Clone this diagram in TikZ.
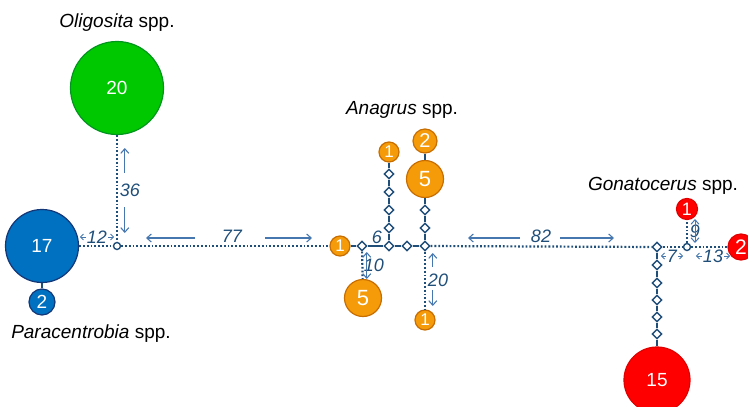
\documentclass[tikz,border=0pt]{standalone}
\usepackage{fontspec}
\setmainfont{Liberation Sans}
\usepackage{xcolor}
\usetikzlibrary{positioning,shapes.geometric,arrows.meta}

\definecolor{netline}{RGB}{31,78,121}
\definecolor{dimblue}{RGB}{70,120,175}
\definecolor{greenfill}{RGB}{0,200,0}
\definecolor{greenedge}{RGB}{0,150,30}
\definecolor{bluefill}{RGB}{0,112,192}
\definecolor{blueedge}{RGB}{20,55,120}
\definecolor{orangefill}{RGB}{245,155,10}
\definecolor{orangeedge}{RGB}{200,110,0}
\definecolor{redfill}{RGB}{255,0,0}
\definecolor{rededge}{RGB}{225,0,0}

\begin{document}
\begin{tikzpicture}[x=1pt, y=-1pt,
		>={Straight Barb[length=4.5pt, width=8pt]},
		hapnode/.style={circle, line width=1.2pt, inner sep=0pt, text=white},
		greenhap/.style={hapnode, draw=greenedge, fill=greenfill, font=\fontsize{19}{19}\selectfont},
		bluehap/.style={hapnode, draw=blueedge, fill=bluefill, font=\fontsize{19}{19}\selectfont},
		orangehap/.style={hapnode, draw=orangeedge, fill=orangefill},
		redhap/.style={hapnode, draw=rededge, fill=redfill},
		mednode/.style={diamond, draw=netline, fill=white, line width=1.4pt, inner sep=0pt, minimum size=10pt},
		joinnode/.style={circle, draw=netline, fill=white, line width=1.4pt, inner sep=0pt, minimum size=7pt},
		solidlink/.style={draw=netline, line width=2pt},
		dotlink/.style={draw=netline, line width=2.2pt, dash pattern=on 1.8pt off 2pt},
		dimarrow/.style={draw=dimblue, line width=1.1pt, ->},
		smallarrow/.style={draw=dimblue, line width=1pt, -{Straight Barb[length=3pt, width=6pt]}},
		dimlabel/.style={text=netline, font=\itshape\fontsize{18}{18}\selectfont, inner sep=1pt},
		taxon/.style={font=\fontsize{19}{22}\selectfont},
	]
		\useasboundingbox (0,0) rectangle (748,407);

		% haplotypes
		\node[greenhap, minimum size=93pt] (olig20) at (117,88) {20};
		\node[bluehap, minimum size=73pt] (para17) at (42,246) {17};
		\node[bluehap, minimum size=26pt] (para2) at (42,302) {2};
		\node[orangehap, minimum size=20pt, font=\fontsize{17}{17}\selectfont] (anaW1) at (340,246) {1};
		\node[orangehap, minimum size=37pt, font=\fontsize{22}{22}\selectfont] (anaS5) at (363,298) {5};
		\node[orangehap, minimum size=20pt, font=\fontsize{17}{17}\selectfont] (anaT1) at (389,152) {1};
		\node[orangehap, minimum size=37pt, font=\fontsize{22}{22}\selectfont] (anaT5) at (425,179) {5};
		\node[orangehap, minimum size=24pt, font=\fontsize{20}{20}\selectfont] (anaT2) at (425,141) {2};
		\node[orangehap, minimum size=20pt, font=\fontsize{17}{17}\selectfont] (anaB1) at (425,320) {1};
		\node[redhap, minimum size=66pt, font=\fontsize{19}{19}\selectfont] (gona15) at (657,380) {15};
		\node[redhap, minimum size=21pt, font=\fontsize{18}{18}\selectfont] (gona1) at (687,209) {1};
		\node[redhap, minimum size=26pt, font=\fontsize{21}{21}\selectfont] (gona2) at (741,247) {2};

		% median and joining nodes
		\node[joinnode] (joinL) at (117,246) {};
		\node[mednode] (anaM1) at (362,246) {};
		\node[mednode] (anaM2) at (389,246) {};
		\node[mednode] (anaM3) at (407,246) {};
		\node[mednode] (anaM4) at (425,246) {};
		\node[mednode] (anaU1) at (389,228) {};
		\node[mednode] (anaU2) at (389,210) {};
		\node[mednode] (anaU3) at (389,192) {};
		\node[mednode] (anaU4) at (389,174) {};
		\node[mednode] (anaV1) at (425,228) {};
		\node[mednode] (anaV2) at (425,210) {};
		\node[mednode] (gonaM0) at (657,247) {};
		\node[mednode] (gonaD1) at (657,265) {};
		\node[mednode] (gonaD2) at (657,283) {};
		\node[mednode] (gonaD3) at (657,300) {};
		\node[mednode] (gonaD4) at (657,317) {};
		\node[mednode] (gonaD5) at (657,334) {};
		\node[joinnode] (joinR) at (687,247) {};

		% taxa
		\node[taxon, above=6pt of olig20] (oligname) {\textit{Oligosita} spp.};
		\node[taxon] (paraname) at (91,334) {\textit{Paracentrobia} spp.};
		\node[taxon] (ananame) at (402,110) {\textit{Anagrus} spp.};
		\node[taxon] (gonaname) at (663,186) {\textit{Gonatocerus} spp.};

		% lines
		\draw[dotlink] (olig20) -- (joinL);
		\draw[dotlink] (para17) -- (joinL);
		\draw[solidlink] (para17) -- (para2);
		\draw[dotlink] (joinL) -- (anaW1);
		\draw[solidlink] (anaW1) -- (anaM1);
		\draw[dotlink] (anaM1) -- (anaS5);
		\draw[solidlink] (anaM1) -- (anaM2);
		\draw[solidlink] (anaM2) -- (anaM3);
		\draw[solidlink] (anaM3) -- (anaM4);
		\draw[solidlink] (anaM2) -- (anaU1);
		\draw[solidlink] (anaU1) -- (anaU2);
		\draw[solidlink] (anaU2) -- (anaU3);
		\draw[solidlink] (anaU3) -- (anaU4);
		\draw[solidlink] (anaU4) -- (anaT1);
		\draw[solidlink] (anaM4) -- (anaV1);
		\draw[solidlink] (anaV1) -- (anaV2);
		\draw[solidlink] (anaV2) -- (anaT5);
		\draw[solidlink] (anaT5) -- (anaT2);
		\draw[dotlink] (anaM4) -- (anaB1);
		\draw[dotlink] (anaM4) -- (gonaM0);
		\draw[dotlink] (gonaM0) -- (joinR);
		\draw[dotlink] (joinR) -- (gona2);
		\draw[dotlink] (joinR) -- (gona1);
		\draw[solidlink] (gonaM0) -- (gonaD1);
		\draw[solidlink] (gonaD1) -- (gonaD2);
		\draw[solidlink] (gonaD2) -- (gonaD3);
		\draw[solidlink] (gonaD3) -- (gonaD4);
		\draw[solidlink] (gonaD4) -- (gonaD5);
		\draw[solidlink] (gonaD5) -- (gona15);

		% distances
		\node[dimlabel] (d12) at (97,237) {12};
		\draw[smallarrow] (d12.west) -- ++(-6,0);
		\draw[smallarrow] (d12.east) -- ++(6,0);
		\node[dimlabel] (d36) at (130,190) {36};
		\draw[dimarrow] (d36.west) ++(6,-17) -- ++(0,-25);
		\draw[dimarrow] (d36.west) ++(6,17) -- ++(0,26);
		\node[dimlabel] (d77) at (232,236) {77};
		\draw[dimarrow] (d77) ++(-37,2) -- ++(-49,0);
		\draw[dimarrow] (d77) ++(33,2) -- ++(47,0);
		\node[dimlabel] (d6) at (377,237) {6};
		\node[dimlabel] (d10) at (374,265) {10};
		\draw[dimarrow, <->] (d10.west) ++(4,-13) -- ++(0,27);
		\node[dimlabel] (d20) at (438,280) {20};
		\draw[dimarrow] (d20.west) ++(6,-13) -- ++(0,-14);
		\draw[dimarrow] (d20.west) ++(6,10) -- ++(0,16);
		\node[dimlabel] (d82) at (541,236) {82};
		\draw[dimarrow] (d82) ++(-21,2) -- ++(-52,0);
		\draw[dimarrow] (d82) ++(19,2) -- ++(54,0);
		\node[dimlabel] (d7) at (672,256) {7};
		\draw[smallarrow] (d7.west) -- ++(-5,0);
		\draw[smallarrow] (d7.east) -- ++(5,0);
		\node[dimlabel] (d13) at (713,256) {13};
		\draw[smallarrow] (d13.west) -- ++(-6,0);
		\draw[smallarrow] (d13.east) -- ++(6,0);
		\node[dimlabel] (d9) at (695,231) {9};
		\draw[smallarrow, <->] (d9.center) ++(0,-12) -- ++(0,24);
	\end{tikzpicture}
\end{document}
